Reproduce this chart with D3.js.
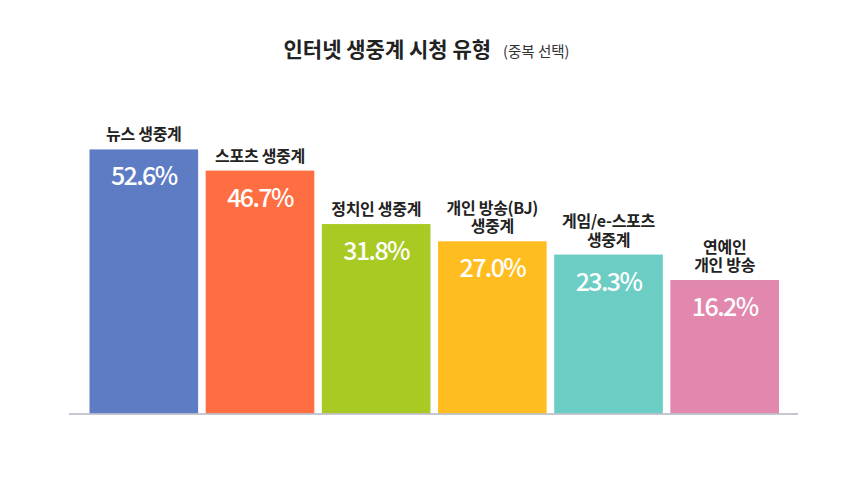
<!DOCTYPE html>
<html>
<head>
<meta charset="utf-8">
<script src="https://cdn.jsdelivr.net/npm/d3@7"></script>
<style>
  body { margin: 0; background: #fff; }
  text { font-family: "Noto Sans CJK KR", "Noto Sans", sans-serif; }
</style>
</head>
<body>
<div id="chart"></div>
<script>
// data
var categories = ["뉴스 생중계", "스포츠 생중계", "정치인 생중계", "개인 방송(BJ)\n생중계", "게임/e-스포츠\n생중계", "연예인\n개인 방송"];
var values = [52.6, 46.7, 31.8, 27.0, 23.3, 16.2];
var colors = ["#5e7cc4", "#ff6d42", "#a8ca22", "#ffbd1f", "#6bcdc4", "#e287ae"];
var titleMain = "인터넷 생중계 시청 유형";
var titleSub = "(중복 선택)";

var W = 853, H = 504;
var baseY = 413.5;

var svg = d3.select("#chart").append("svg")
    .attr("width", W)
    .attr("height", H);

// x positions of the bars
var x = d3.scaleBand()
    .domain(categories)
    .range([89.5, 779])
    .paddingInner(0.065)
    .paddingOuter(0);

// bars in the picture are not drawn from zero, so the domain starts below 0
var y = d3.scaleLinear()
    .domain([-21, 53])
    .range([baseY, 148]);

var rows = categories.map(function (c, i) {
    return { cat: c, value: values[i], color: colors[i] };
});

// title
var title = svg.append("text")
    .attr("x", W / 2)
    .attr("y", 57)
    .attr("text-anchor", "middle")
    .attr("fill", "#222");
title.append("tspan")
    .attr("font-size", "21px")
    .attr("font-weight", 700)
    .text(titleMain);
title.append("tspan")
    .attr("dx", 12)
    .attr("font-size", "14.5px")
    .attr("font-weight", 400)
    .attr("fill", "#333")
    .text(titleSub);

// bars
var g = svg.selectAll("g.bar")
    .data(rows)
    .enter()
    .append("g")
    .attr("class", "bar");

g.append("rect")
    .attr("x", function (d) { return x(d.cat); })
    .attr("y", function (d) { return y(d.value); })
    .attr("width", x.bandwidth())
    .attr("height", function (d) { return baseY - y(d.value); })
    .attr("fill", function (d) { return d.color; });

// value labels inside
g.append("text")
    .attr("x", function (d) { return x(d.cat) + x.bandwidth() / 2; })
    .attr("y", function (d) { return y(d.value) + 36; })
    .attr("text-anchor", "middle")
    .attr("font-size", "25px")
    .attr("font-weight", 500)
    .attr("letter-spacing", "-1.6px")
    .attr("fill", "#fff")
    .text(function (d) { return d.value.toFixed(1) + "%"; });

// category labels above, one text per line
g.each(function (d) {
    var lines = d.cat.split("\n");
    var cx = x(d.cat) + x.bandwidth() / 2;
    var top = y(d.value);
    var sel = d3.select(this);
    lines.forEach(function (line, i) {
        sel.append("text")
            .attr("x", cx)
            .attr("y", top - 9 - (lines.length - 1 - i) * 18.5)
            .attr("text-anchor", "middle")
            .attr("font-size", "16px")
            .attr("font-weight", 700)
            .attr("letter-spacing", "-0.3px")
            .attr("fill", "#222")
            .text(line);
    });
});

// baseline
svg.append("line")
    .attr("x1", 69)
    .attr("x2", 798)
    .attr("y1", baseY + 0.5)
    .attr("y2", baseY + 0.5)
    .attr("stroke", "#b4b4c2")
    .attr("stroke-width", 1.5);
</script>
</body>
</html>
